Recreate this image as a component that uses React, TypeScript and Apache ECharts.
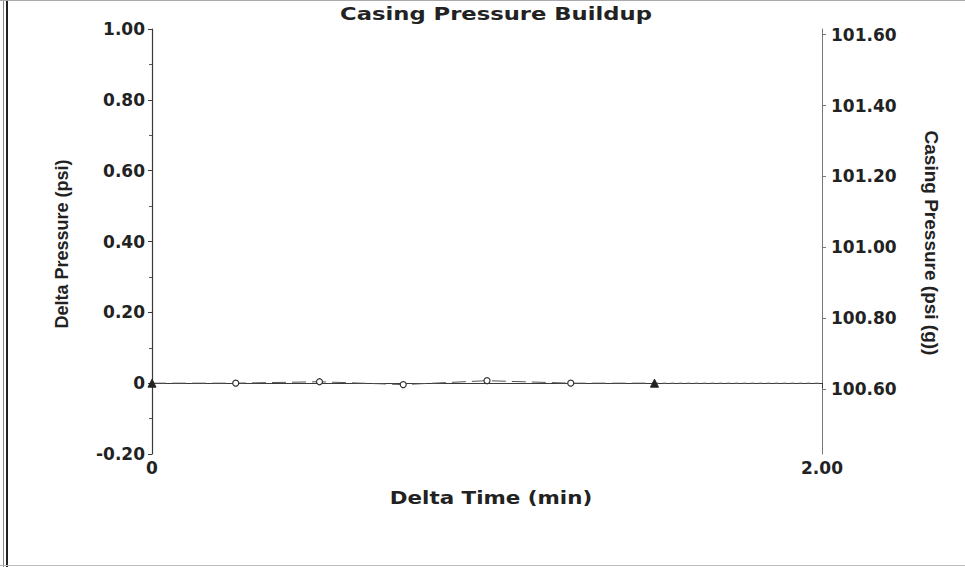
import React, { useEffect, useRef } from "react";
import * as echarts from "echarts";

// Delta time (min) of each recorded sample
const timeMin = [0, 0.25, 0.5, 0.75, 1.0, 1.25, 1.5];
// Delta pressure (psi) at each sample
const deltaPsi = [0, 0, 0.004, -0.004, 0.007, 0, 0];
// Projection of the last reading to the end of the time axis
const projTime = [1.5, 2.0];
const projDelta = [0, 0];
// Right axis (casing pressure, psi g) range and labelled ticks
const casingMin = 100.416;
const casingMax = 101.616;
const casingTicks = [100.6, 100.8, 101.0, 101.2, 101.4, 101.6];

const TXT = "#222";
const LINE = "#3a3a3a";

export default function App() {
  const ref = useRef<HTMLDivElement>(null);

  useEffect(() => {
    if (!ref.current) return;
    const chart = echarts.init(ref.current, null, { renderer: "svg" });
    const last = timeMin.length - 1;
    const mainData = timeMin.map((t, i) => {
      const tri = i === 0 || i === last;
      return {
        value: [t, deltaPsi[i]],
        symbol: tri ? "triangle" : "circle",
        symbolSize: tri ? 8 : 6,
        itemStyle: tri
          ? { color: "#222", borderColor: "#222", borderWidth: 1 }
          : { color: "#fff", borderColor: "#333", borderWidth: 1.2 },
      };
    });
    const projData = projTime.map((t, i) => [t, projDelta[i]]);
    const tickFont = {
      fontFamily: "DejaVu Sans",
      fontWeight: "bold" as const,
      fontSize: 17,
      color: TXT,
    };

    chart.setOption({
      animation: false,
      backgroundColor: "#fff",
      grid: { left: 152, right: 143, top: 29, bottom: 113 },
      xAxis: {
        type: "value",
        min: 0,
        max: 2,
        interval: 2,
        axisLine: { lineStyle: { color: LINE, width: 1.2 } },
        axisTick: { show: true, length: 5, lineStyle: { color: LINE } },
        splitLine: { show: false },
        axisLabel: {
          ...tickFont,
          margin: 5,
          formatter: (v: number) => (v === 0 ? "0" : v.toFixed(2)),
        },
      },
      yAxis: [
        {
          type: "value",
          position: "left",
          min: -0.2,
          max: 1.0,
          interval: 0.2,
          axisLine: { show: true, lineStyle: { color: LINE, width: 1.2 } },
          axisTick: { show: true, length: 4, lineStyle: { color: LINE } },
          minorTick: { show: true, splitNumber: 2, length: 3, lineStyle: { color: "#555" } },
          splitLine: { show: false },
          axisLabel: {
            ...tickFont,
            margin: 7,
            formatter: (v: number) => (Math.abs(v) < 1e-9 ? "0" : v.toFixed(2)),
          },
        },
        {
          type: "value",
          position: "right",
          min: casingMin,
          max: casingMax,
          alignTicks: false,
          axisLine: { show: true, lineStyle: { color: "#777", width: 1 } },
          axisTick: { show: true, length: 4, customValues: casingTicks, lineStyle: { color: "#777" } },
          splitLine: { show: false },
          axisLabel: {
            ...tickFont,
            margin: 9,
            customValues: casingTicks,
            formatter: (v: number) => v.toFixed(2),
          },
        },
      ],
      graphic: [
        { type: "line", shape: { x1: 3.5, y1: 0, x2: 3.5, y2: 567 }, style: { stroke: "#888", lineWidth: 1 } },
        { type: "line", shape: { x1: 7, y1: 0, x2: 7, y2: 567 }, style: { stroke: "#222", lineWidth: 2 } },
        { type: "line", shape: { x1: 0, y1: 0.5, x2: 965, y2: 0.5 }, style: { stroke: "#aaa", lineWidth: 1 } },
        { type: "line", shape: { x1: 0, y1: 565.5, x2: 965, y2: 565.5 }, style: { stroke: "#bbb", lineWidth: 1 } },
        {
          type: "text",
          x: 496,
          y: 14,
          scaleX: 1.26,
          style: {
            text: "Casing Pressure Buildup",
            fontFamily: "DejaVu Sans",
            fontWeight: "bold",
            fontSize: 18,
            fill: TXT,
            align: "center",
            verticalAlign: "middle",
          },
        },
        {
          type: "text",
          x: 491,
          y: 498,
          scaleX: 1.26,
          style: {
            text: "Delta Time (min)",
            fontFamily: "DejaVu Sans",
            fontWeight: "bold",
            fontSize: 17,
            fill: TXT,
            align: "center",
            verticalAlign: "middle",
          },
        },
        {
          type: "text",
          x: 62,
          y: 244,
          rotation: Math.PI / 2,
          style: {
            text: "Delta Pressure (psi)",
            fontFamily: "Liberation Sans",
            fontWeight: "bold",
            fontSize: 18,
            fill: TXT,
            align: "center",
            verticalAlign: "middle",
          },
        },
        {
          type: "text",
          x: 931,
          y: 243,
          rotation: -Math.PI / 2,
          style: {
            text: "Casing Pressure (psi (g))",
            fontFamily: "Liberation Sans",
            fontWeight: "bold",
            fontSize: 19,
            fill: TXT,
            align: "center",
            verticalAlign: "middle",
          },
        },
      ],
      series: [
        {
          name: "Delta Pressure",
          type: "line",
          yAxisIndex: 0,
          data: mainData,
          lineStyle: { color: "#555", width: 1, type: [14, 6] },
          z: 3,
        },
        {
          name: "Projection",
          type: "line",
          yAxisIndex: 0,
          data: projData,
          showSymbol: false,
          symbol: "none",
          lineStyle: { color: "#666", width: 1, type: [4, 4] },
          z: 2,
        },
      ],
    });
    return () => chart.dispose();
  }, []);

  return (
    <div
      ref={ref}
      style={{ position: "fixed", left: 0, top: 0, width: 965, height: 567, background: "#fff" }}
    />
  );
}
